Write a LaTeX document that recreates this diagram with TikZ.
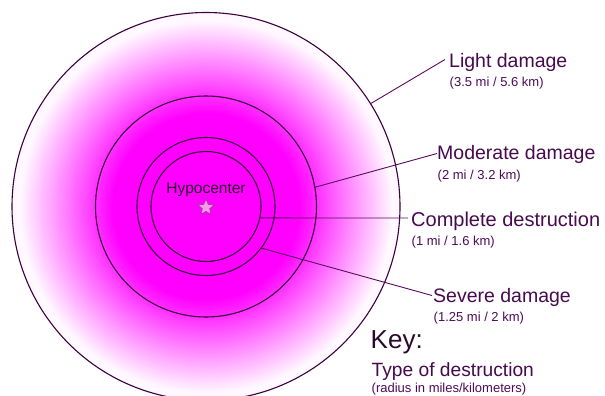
\documentclass[tikz,border=0pt]{standalone}
\usepackage{fontspec}
\setmainfont{Liberation Sans}
\usetikzlibrary{shapes.geometric}
\definecolor{ringc}{HTML}{3A0040}
\definecolor{leadc}{HTML}{5A0A5E}
\definecolor{labc}{HTML}{480A4E}
\definecolor{subc}{HTML}{4E0A5A}
\definecolor{keyc}{HTML}{2A0A2C}
\definecolor{starfill}{HTML}{F39AE8}
\definecolor{stardraw}{HTML}{A0309A}
\definecolor{mag}{HTML}{FF00FF}
\definecolor{edgec}{HTML}{FFF8FF}
\pgfdeclareradialshading{blast}{\pgfpoint{0bp}{0bp}}{color(0bp)=(mag); color(12bp)=(mag); color(24bp)=(edgec); color(50bp)=(edgec)}
\begin{document}
\begin{tikzpicture}[x=1pt,y=-1pt,
  ring/.style={circle,draw=ringc,line width=1.1pt,minimum size=#1,inner sep=0pt,outer sep=0pt},
  lead/.style={draw=leadc,line width=0.9pt},
  lab/.style={anchor=base west,inner sep=0pt,text=labc,font=\fontsize{19.5}{22}\selectfont},
  sub/.style={anchor=base west,inner sep=0pt,text=subc,font=\fontsize{13}{15}\selectfont},
  keytxt/.style={anchor=base west,inner sep=0pt,text=keyc}]
\clip (0,0) rectangle (605,396);
\fill[white] (0,0) rectangle (605,396);
\shade[shading=blast] (206,206.5) circle (194);
% rings
\node[ring=388pt] (outer) at (206,206.5) {};
\node[ring=221pt] (moderate) at (206,206.5) {};
\node[ring=138pt] (severe) at (206,206.5) {};
\node[ring=110pt] (complete) at (206,206.5) {};
% hypocenter
\node[anchor=base,inner sep=0pt,text=keyc,font=\fontsize{15.5}{18}\selectfont] (hyplabel) at (206,193.3) {Hypocenter};
\node[star,star points=5,star point ratio=2.2,minimum size=17pt,inner sep=0pt,fill=starfill,draw=stardraw,line width=0.6pt] (hypo) at (206,207.5) {};
% labels
\node[lab] (light) at (449,67.3) {Light damage};
\node[sub] (lightsub) at (449.5,86.7) {(3.5 mi / 5.6 km)};
\node[lab] (mod) at (437,159.3) {Moderate damage};
\node[sub] (modsub) at (437.5,179) {(2 mi / 3.2 km)};
\node[lab,font=\fontsize{20}{22}\selectfont] (comp) at (411,226) {Complete destruction};
\node[sub] (compsub) at (411.5,245.5) {(1 mi / 1.6 km)};
\node[lab] (sev) at (433,302.7) {Severe damage};
\node[sub] (sevsub) at (433.5,321.7) {(1.25 mi / 2 km)};
\node[keytxt,font=\fontsize{26}{28}\selectfont] (key) at (370.5,348.3) {Key:};
\node[keytxt,text=labc,font=\fontsize{19.2}{22}\selectfont] (type) at (371.5,376.7) {Type of destruction};
\node[sub] (radius) at (371.5,392.6) {(radius in miles/kilometers)};
% leader ends
\coordinate (lightend) at (445,59.5);
\coordinate (modend) at (437,153.5);
\coordinate (compend) at (408,218);
\coordinate (sevend) at (432,295.5);
% leaders
\draw[lead] (outer.32.4) -- (lightend);
\draw[lead] (moderate.10.5) -- (modend);
\draw[lead] (complete.-12.1) -- (compend);
\draw[lead] (severe.-37.8) -- (sevend);
\end{tikzpicture}
\end{document}
